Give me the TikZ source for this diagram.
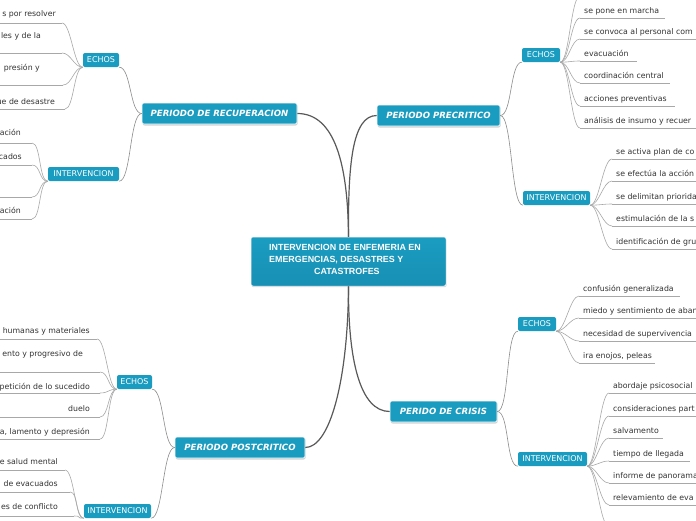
\documentclass[tikz,border=0pt]{standalone}
\usepackage{fontspec}
\usetikzlibrary{shadows}
\newfontfamily\leaffont{DejaVu Sans}
\newfontfamily\brfont{DejaVu Sans Bold Oblique}
\newfontfamily\ctrfont{Liberation Sans}
\definecolor{tealA}{HTML}{1A9CC1}
\definecolor{tealB}{HTML}{1890B4}
\definecolor{leafgray}{HTML}{A8A8A8}
\tikzset{
  ctrbox/.style={draw=white, line width=0.5pt, rounded corners=2pt, top color=tealA, bottom color=tealB, minimum width=195pt, minimum height=49pt, inner sep=0pt, drop shadow={shadow xshift=0.6pt, shadow yshift=-1.2pt, opacity=0.3}},
  ctrtxt/.style={text=white, font=\ctrfont\bfseries\fontsize{8.9}{12}\selectfont, align=left, inner sep=0pt},
  brbox/.style={fill=tealA, draw=white, line width=0.6pt, rounded corners=2pt, drop shadow={shadow xshift=0.6pt, shadow yshift=-1.5pt, opacity=0.35}, text=white, font=\brfont\fontsize{8.6}{10}\selectfont, minimum height=21pt, inner sep=0pt},
  subbox/.style={fill=tealA, rounded corners=2pt, text=white, font=\leaffont\fontsize{8}{9}\selectfont, minimum height=14pt, inner sep=0pt},
  leaf/.style={text=black!80, font=\leaffont\fontsize{7.8}{9}\selectfont, inner sep=0pt},
  ul/.style={draw=leafgray, line width=0.8pt},
  lconn/.style={draw=leafgray, line width=0.6pt},
  sconn/.style={draw=black!45, line width=0.6pt},
  mconn/.style={draw=black!65, line width=1.2pt},
}
% right-side leaf: name, parent, underline start x, text y, underline end x, text
\newcommand\rleaf[6]{%
  \coordinate (#1u) at (#3,#4+7);
  \coordinate (#1e) at (#5,#4+7);
  \node[leaf,anchor=mid west] (#1) at (#3+4,#4) {#6};
  \draw[ul] (#1u) -- (#1e);
  \draw[lconn] (#2) .. controls +(9,0) and +(-9,0) .. (#1u);
}
% left-side leaf: name, parent, underline end x, text y, underline offset, text right x, text
\newcommand\lleaf[7]{%
  \coordinate (#1u) at (#3,#4+#5);
  \coordinate (#1e) at (-5,#4+#5);
  \node[leaf,anchor=mid east] (#1) at (#6,#4) {#7};
  \draw[ul] (#1e) -- (#1u);
  \draw[lconn] (#2) .. controls +(-9,0) and +(9,0) .. (#1u);
}
\begin{document}
\begin{tikzpicture}[x=1pt,y=-1pt]
\useasboundingbox (0,0) rectangle (696,520);
\clip (0,0) rectangle (696,520);
\fill[white] (0,0) rectangle (696,520);

% main nodes
\node[ctrbox] (c) at (348.5,261.5) {};
\node[ctrtxt,anchor=north west] (ct) at (269,244) {INTERVENCION DE ENFEMERIA EN\\EMERGENCIAS, DESASTRES Y\\\hspace*{45pt}CATASTROFES};

\node[brbox,minimum width=155pt] (rec) at (219.5,113.5) {PERIODO DE RECUPERACION};
\node[brbox,minimum width=123pt] (pre) at (438.5,115.5) {PERIODO PRECRITICO};
\node[brbox,minimum width=107pt] (cri) at (443.5,411.5) {PERIDO DE CRISIS};
\node[brbox,minimum width=130pt] (pos) at (240,447.5) {PERIODO POSTCRITICO};

% main connectors
\draw[mconn] (c.north) .. controls (348,165) and (352,115.5) .. (pre.west);
\draw[mconn] (c.north) .. controls (348,165) and (335,113.5) .. (rec.east);
\draw[mconn] (c.south) .. controls (348,360) and (360,411.5) .. (cri.west);
\draw[mconn] (c.south) .. controls (348,380) and (330,447.5) .. (pos.east);

% sub nodes
\node[subbox,minimum width=36pt] (recE) at (101,60) {ECHOS};
\node[subbox,minimum width=71pt] (recI) at (83.5,174) {INTERVENCION};
\node[subbox,minimum width=35pt] (posE) at (134.5,382) {ECHOS};
\node[subbox,minimum width=67pt] (posI) at (117.5,511) {INTERVENCION};
\node[subbox,minimum width=38pt] (preE) at (541,55) {ECHOS};
\node[subbox,minimum width=67pt] (preI) at (556.5,198) {INTERVENCION};
\node[subbox,minimum width=38pt] (criE) at (537,324) {ECHOS};
\node[subbox,minimum width=69pt] (criI) at (552.5,459) {INTERVENCION};

% sub connectors
\draw[sconn] (rec.west) .. controls +(-12,0) and +(12,0) .. (recE.south east);
\draw[sconn] (rec.west) .. controls +(-12,0) and +(12,0) .. (recI.south east);
\draw[sconn] (pos.west) .. controls +(-12,0) and +(12,0) .. (posE.south east);
\draw[sconn] (pos.west) .. controls +(-12,0) and +(12,0) .. (posI.south east);
\draw[sconn] (pre.east) .. controls +(12,0) and +(-12,0) .. (preE.south west);
\draw[sconn] (pre.east) .. controls +(12,0) and +(-12,0) .. (preI.south west);
\draw[sconn] (cri.east) .. controls +(12,0) and +(-12,0) .. (criE.south west);
\draw[sconn] (cri.east) .. controls +(12,0) and +(-12,0) .. (criI.south west);

% PRECRITICO / ECHOS
\coordinate (pe0u) at (580,-4);
\draw[lconn] (preE.south east) .. controls +(9,0) and +(-9,0) .. (pe0u);
\rleaf{pe1}{preE.south east}{580}{11}{665}{se pone en marcha}
\rleaf{pe2}{preE.south east}{580}{32}{700}{se convoca al personal com}
\rleaf{pe3}{preE.south east}{580}{54}{637}{evacuación}
\rleaf{pe4}{preE.south east}{580}{76}{670}{coordinación central}
\rleaf{pe5}{preE.south east}{580}{99}{675}{acciones preventivas}
\rleaf{pe6}{preE.south east}{580}{121}{700}{análisis de insumo y recuer}

% PRECRITICO / INTERVENCION
\rleaf{pi1}{preI.south east}{612}{152}{700}{se activa plan de co}
\rleaf{pi2}{preI.south east}{612}{174}{700}{se efectúa la acción}
\rleaf{pi3}{preI.south east}{612}{197}{700}{se delimitan priorida}
\rleaf{pi4}{preI.south east}{612}{219}{700}{estimulación de la s}
\rleaf{pi5}{preI.south east}{612}{242}{700}{identificación de gru}

% CRISIS / ECHOS
\rleaf{ce1}{criE.south east}{579}{289}{680}{confusión generalizada}
\rleaf{ce2}{criE.south east}{579}{311}{700}{miedo y sentimiento de aban}
\rleaf{ce3}{criE.south east}{579}{334}{700}{necesidad de supervivencia}
\rleaf{ce4}{criE.south east}{579}{356}{655}{ira enojos, peleas}

% CRISIS / INTERVENCION
\rleaf{ci1}{criI.south east}{609}{386}{700}{abordaje psicosocial}
\rleaf{ci2}{criI.south east}{609}{409}{700}{consideraciones part}
\rleaf{ci3}{criI.south east}{609}{431}{663}{salvamento}
\rleaf{ci4}{criI.south east}{609}{454}{690}{tiempo de llegada}
\rleaf{ci5}{criI.south east}{609}{476}{700}{informe de panorama}
\rleaf{ci6}{criI.south east}{609}{498}{700}{relevamiento de eva}
\coordinate (ci7u) at (609,527);
\draw[lconn] (criI.south east) .. controls +(9,0) and +(-9,0) .. (ci7u);

% RECUPERACION / ECHOS
\lleaf{re1}{recE.south west}{62}{14}{9}{56}{s por resolver}
\lleaf{re2}{recE.south west}{62}{36}{17}{41}{les y de la}
\lleaf{re3}{recE.south west}{63}{68}{17}{40}{presión y}
\lleaf{re4}{recE.south west}{65}{102}{7}{55}{ue de desastre}

% RECUPERACION / INTERVENCION
\lleaf{ri1}{recI.south west}{32}{133}{10}{21}{ración}
\lleaf{ri2}{recI.south west}{32}{157}{8}{22}{cados}
\coordinate (ri3u) at (32,197);
\coordinate (ri3e) at (-5,197);
\draw[ul] (ri3e) -- (ri3u);
\draw[lconn] (recI.south west) .. controls +(-9,0) and +(9,0) .. (ri3u);
\lleaf{ri4}{recI.south west}{32}{211}{8}{21}{ación}

% POSTCRITICO / ECHOS
\lleaf{pse1}{posE.south west}{97}{331}{8}{90}{humanas y materiales}
\lleaf{pse2}{posE.south west}{100}{354}{18}{83}{ento y progresivo de}
\lleaf{pse3}{posE.south west}{100}{387}{6}{90}{petición de lo sucedido}
\lleaf{pse4}{posE.south west}{100}{409}{8}{90}{duelo}
\lleaf{pse5}{posE.south west}{100}{432}{7}{90}{a, lamento y depresión}

% POSTCRITICO / INTERVENCION
\lleaf{psi1}{posI.south west}{65}{462}{8}{58}{e salud mental}
\lleaf{psi2}{posI.south west}{70}{484}{8}{58}{de evacuados}
\lleaf{psi3}{posI.south west}{74}{507}{9}{58}{es de conflicto}
\end{tikzpicture}
\end{document}
